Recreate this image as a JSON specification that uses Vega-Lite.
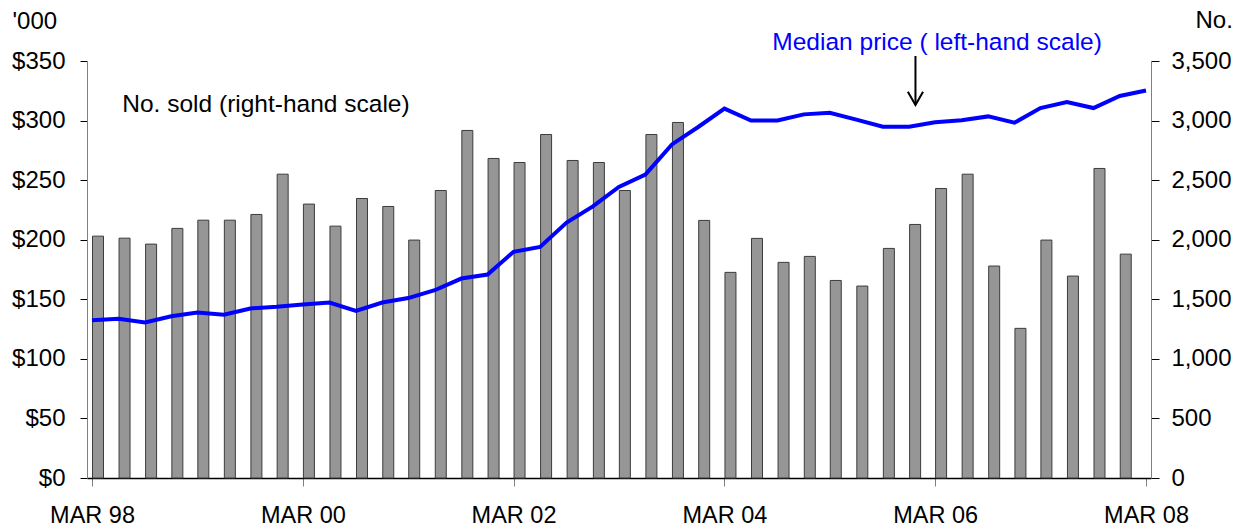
{
  "$schema": "https://vega.github.io/schema/vega-lite/v6.json",
  "width": 1064,
  "height": 417,
  "autosize": {"type": "none"},
  "padding": {"left": 87, "top": 61, "right": 94, "bottom": 49},
  "background": "white",
  "config": {
    "view": {"stroke": null},
    "font": "Liberation Sans",
    "axis": {
      "grid": false,
      "labelFont": "Liberation Sans",
      "labelFontSize": 24,
      "labelColor": "black",
      "titleFont": "Liberation Sans",
      "titleFontSize": 24,
      "titleFontWeight": "normal",
      "titleColor": "black",
      "labelOverlap": false,
      "labelFlush": false,
      "labelBound": false
    },
    "text": {"font": "Liberation Sans", "fontSize": 24.5}
  },
  "data": {
    "values": [
      {"date": "1998-03-01", "price": 132.5, "sold": 2030},
      {"date": "1998-06-01", "price": 133.6, "sold": 2013},
      {"date": "1998-09-01", "price": 130.5, "sold": 1963},
      {"date": "1998-12-01", "price": 135.8, "sold": 2095},
      {"date": "1999-03-01", "price": 138.9, "sold": 2164},
      {"date": "1999-06-01", "price": 137.0, "sold": 2164},
      {"date": "1999-09-01", "price": 142.3, "sold": 2212},
      {"date": "1999-12-01", "price": 143.7, "sold": 2550},
      {"date": "2000-03-01", "price": 145.6, "sold": 2299},
      {"date": "2000-06-01", "price": 147.3, "sold": 2114},
      {"date": "2000-09-01", "price": 140.3, "sold": 2346},
      {"date": "2000-12-01", "price": 147.3, "sold": 2279},
      {"date": "2001-03-01", "price": 151.0, "sold": 1997},
      {"date": "2001-06-01", "price": 157.6, "sold": 2413},
      {"date": "2001-09-01", "price": 167.4, "sold": 2917},
      {"date": "2001-12-01", "price": 170.8, "sold": 2682},
      {"date": "2002-03-01", "price": 189.8, "sold": 2648},
      {"date": "2002-06-01", "price": 194.0, "sold": 2883},
      {"date": "2002-09-01", "price": 214.4, "sold": 2665},
      {"date": "2002-12-01", "price": 228.0, "sold": 2648},
      {"date": "2003-03-01", "price": 244.3, "sold": 2413},
      {"date": "2003-06-01", "price": 254.6, "sold": 2883},
      {"date": "2003-09-01", "price": 280.0, "sold": 2984},
      {"date": "2003-12-01", "price": 294.6, "sold": 2162},
      {"date": "2004-03-01", "price": 310.0, "sold": 1726},
      {"date": "2004-06-01", "price": 300.0, "sold": 2011},
      {"date": "2004-09-01", "price": 300.0, "sold": 1810},
      {"date": "2004-12-01", "price": 305.2, "sold": 1860},
      {"date": "2005-03-01", "price": 306.6, "sold": 1658},
      {"date": "2005-06-01", "price": 300.8, "sold": 1611},
      {"date": "2005-09-01", "price": 294.9, "sold": 1927},
      {"date": "2005-12-01", "price": 294.9, "sold": 2128},
      {"date": "2006-03-01", "price": 298.5, "sold": 2430},
      {"date": "2006-06-01", "price": 300.2, "sold": 2550},
      {"date": "2006-09-01", "price": 303.5, "sold": 1779},
      {"date": "2006-12-01", "price": 298.2, "sold": 1256},
      {"date": "2007-03-01", "price": 310.5, "sold": 1997},
      {"date": "2007-06-01", "price": 315.5, "sold": 1695},
      {"date": "2007-09-01", "price": 310.5, "sold": 2598},
      {"date": "2007-12-01", "price": 320.6, "sold": 1879},
      {"date": "2008-03-01", "price": 325.3, "sold": null}
    ]
  },
  "layer": [
    {
      "mark": {"type": "bar", "width": 11, "xOffset": 6, "fill": "#969696", "stroke": "#3c3c3c", "strokeWidth": 1},
      "encoding": {
        "x": {
          "field": "date",
          "type": "temporal",
          "scale": {
            "type": "utc",
            "domain": [
              {"year": 1998, "month": 3, "date": 1, "utc": true},
              {"year": 2008, "month": 3, "date": 1, "utc": true}
            ],
            "nice": false
          },
          "axis": {
            "title": null,
            "values": [
              {"year": 1998, "month": 3, "date": 1, "utc": true},
              {"year": 2000, "month": 3, "date": 1, "utc": true},
              {"year": 2002, "month": 3, "date": 1, "utc": true},
              {"year": 2004, "month": 3, "date": 1, "utc": true},
              {"year": 2006, "month": 3, "date": 1, "utc": true},
              {"year": 2008, "month": 3, "date": 1, "utc": true}
            ],
            "labelExpr": "upper(utcFormat(datum.value, '%b %y'))",
            "labelFontSize": 23.5,
            "domainColor": "black",
            "domainWidth": 1.5,
            "tickColor": "#808080",
            "tickSize": 8,
            "labelPadding": 17
          }
        },
        "y": {
          "field": "sold",
          "type": "quantitative",
          "scale": {"domain": [0, 3500], "nice": false},
          "axis": {
            "orient": "right",
            "title": "No.",
            "titleAngle": 0,
            "titleAlign": "left",
            "titleBaseline": "alphabetic",
            "titleX": 44,
            "titleY": -34,
            "values": [0, 500, 1000, 1500, 2000, 2500, 3000, 3500],
            "format": ",d",
            "domainColor": "#808080",
            "tickColor": "black",
            "tickSize": 8,
            "labelPadding": 12
          }
        }
      }
    },
    {
      "layer": [
        {
          "mark": {"type": "line", "color": "#0000ff", "strokeWidth": 4},
          "encoding": {
            "x": {"field": "date", "type": "temporal"},
            "y": {
              "field": "price",
              "type": "quantitative",
              "scale": {"domain": [0, 350], "nice": false},
              "axis": {
                "orient": "left",
                "title": "'000",
                "titleAngle": 0,
                "titleAlign": "left",
                "titleBaseline": "alphabetic",
                "titleX": -75,
                "titleY": -33,
                "values": [0, 50, 100, 150, 200, 250, 300, 350],
                "labelExpr": "'$' + datum.value",
                "domainColor": "#808080",
                "tickColor": "black",
                "tickSize": 7,
                "labelPadding": 15
              }
            }
          }
        },
        {
          "data": {"values": [{}]},
          "mark": {"type": "text", "text": "No. sold (right-hand scale)", "align": "left", "baseline": "alphabetic", "color": "black"},
          "encoding": {
            "x": {"datum": {"year": 1998, "month": 6, "date": 14, "utc": true}, "type": "temporal"},
            "y": {"datum": 307.4, "type": "quantitative"}
          }
        },
        {
          "data": {"values": [{}]},
          "mark": {"type": "text", "text": "Median price ( left-hand scale)", "align": "center", "baseline": "alphabetic", "color": "#0000ff"},
          "encoding": {
            "x": {"datum": {"year": 2006, "month": 3, "date": 8, "utc": true}, "type": "temporal"},
            "y": {"datum": 359.6, "type": "quantitative"}
          }
        },
        {
          "data": {"values": [{}]},
          "mark": {"type": "rule", "color": "black", "strokeWidth": 2},
          "encoding": {
            "x": {"datum": {"year": 2005, "month": 12, "date": 23, "utc": true}, "type": "temporal"},
            "y": {"datum": 354.2, "type": "quantitative"},
            "y2": {"datum": 313.5}
          }
        },
        {
          "data": {"values": [{}]},
          "mark": {"type": "point", "shape": "M-1,-1.75L0,0L1,-1.75", "filled": false, "size": 231, "stroke": "black", "strokeWidth": 2, "opacity": 1},
          "encoding": {
            "x": {"datum": {"year": 2005, "month": 12, "date": 23, "utc": true}, "type": "temporal"},
            "y": {"datum": 313.1, "type": "quantitative"}
          }
        }
      ]
    }
  ],
  "resolve": {"scale": {"y": "independent"}, "axis": {"y": "independent"}}
}
